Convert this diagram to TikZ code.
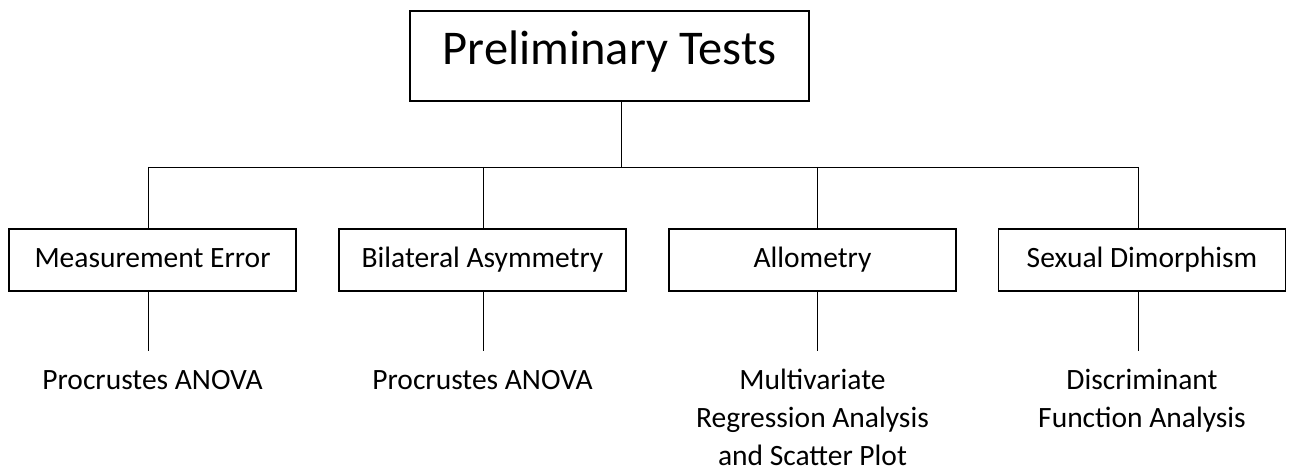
\documentclass[tikz,border=0pt]{standalone}
\usepackage{fontspec}
\setmainfont{Carlito}
\begin{document}
\begin{tikzpicture}[x=1pt,y=-1pt,
  box/.style={draw=black,line width=1.1pt,inner sep=0pt,minimum width=287pt,minimum height=62pt,
    font=\fontsize{29.5}{36}\selectfont,text height=18pt,text depth=2pt},
  topbox/.style={draw=black,line width=1.1pt,inner sep=0pt,minimum width=399pt,minimum height=90pt,
    font=\fontsize{48.5}{58}\selectfont,text height=32pt,text depth=14pt},
  conn/.style={draw=black,line width=0.9pt},
  leaf/.style={align=center,inner sep=0pt,anchor=base,font=\fontsize{29.5}{38}\selectfont}]
\useasboundingbox (0,0) rectangle (1290,470);
\node[topbox] (top) at (609.5,56) {Preliminary Tests};
\node[box] (b1) at (152.5,260) {Measurement Error};
\node[box] (b2) at (482.5,260) {Bilateral Asymmetry};
\node[box] (b3) at (812.5,260) {Allometry};
\node[box] (b4) at (1142,260) {Sexual Dimorphism};
\coordinate (j) at (621,167);
\coordinate (c1) at (148,167);
\coordinate (c2) at (483,167);
\coordinate (c3) at (817,167);
\coordinate (c4) at (1138,167);
\coordinate (e1) at (148,351);
\coordinate (e2) at (483,351);
\coordinate (e3) at (817,351);
\coordinate (e4) at (1138,351);
\draw[conn] (top.south -| j) -- (j);
\draw[conn] (c1) -- (c4);
\foreach \i in {1,2,3,4}{
  \draw[conn] (c\i) -- (c\i |- b\i.north);
  \draw[conn] (b\i.south -| e\i) -- (e\i);
}
% anchor=base refers to the last line of a multi-line node
\node[leaf] (l1) at (152.5,389) {Procrustes ANOVA};
\node[leaf] (l2) at (482.5,389) {Procrustes ANOVA};
\node[leaf] (l3) at (812.5,465) {Multivariate\\Regression Analysis\\and Scatter Plot};
\node[leaf] (l4) at (1142,427) {Discriminant\\Function Analysis};
\end{tikzpicture}
\end{document}
